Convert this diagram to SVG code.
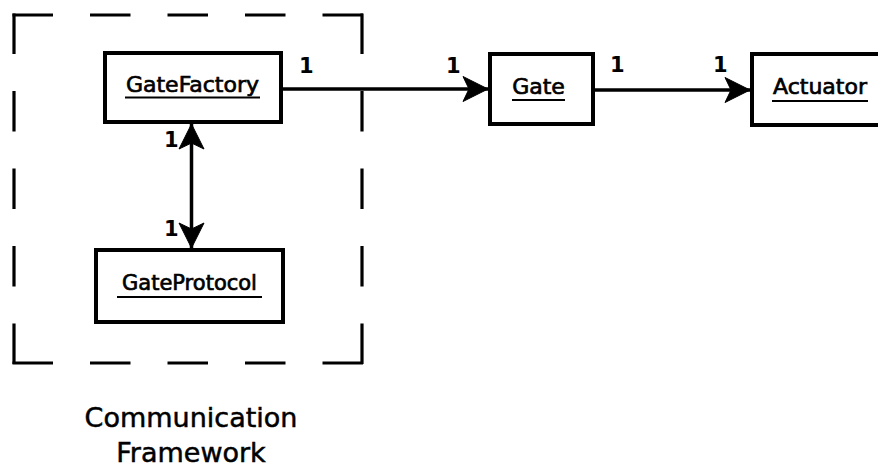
<svg xmlns="http://www.w3.org/2000/svg" width="878" height="467" viewBox="0 0 878 467">
  <style>
    .box { fill: #fff; stroke: #000; stroke-width: 4; }
    .name { font-family: "DejaVu Sans", "Liberation Sans", sans-serif; font-size: 22px; fill: #000; stroke: #000; stroke-width: 0.7; text-anchor: middle; }
    .ul { stroke: #000; stroke-width: 2.2; }
    .mult { font-family: "DejaVu Sans", "Liberation Sans", sans-serif; font-size: 21px; font-weight: bold; fill: #000; }
    .edge { fill: none; stroke: #000; stroke-width: 3.5; }
    .frame { stroke: #000; stroke-width: 3.2; stroke-dasharray: 40.5 37; fill: none; }
    .caption { font-family: "DejaVu Sans", "Liberation Sans", sans-serif; font-size: 27px; fill: #000; stroke: #000; stroke-width: 0.5; text-anchor: middle; }
    .tip { fill: #000; stroke: #000; stroke-width: 1; stroke-linejoin: miter; }
  </style>
  <defs>
    <marker id="head" markerUnits="userSpaceOnUse" markerWidth="32" markerHeight="32" viewBox="-30 -16 32 32" refX="0" refY="0" orient="auto-start-reverse" overflow="visible">
      <path class="tip" d="M-1,0 L-26,-12.5 L-20,0 L-26,12.5 Z"/>
    </marker>
  </defs>
  <rect width="878" height="467" fill="#fff"/>

  <!-- package frame (dashed) -->
  <g id="communication-framework">
    <line class="frame" x1="12.5" y1="15" x2="363.5" y2="15"/>
    <line class="frame" x1="12.5" y1="363" x2="363.5" y2="363"/>
    <line class="frame" x1="14" y1="13.5" x2="14" y2="364.5"/>
    <line class="frame" x1="362" y1="13.5" x2="362" y2="364.5"/>
    <text class="caption" x="191" y="427">Communication</text>
    <text class="caption" x="191" y="462">Framework</text>
  </g>

  <!-- connectors -->
  <g id="connectors">
    <line class="edge" x1="281" y1="89" x2="489" y2="89" marker-end="url(#head)"/>
    <line class="edge" x1="593" y1="90" x2="751" y2="90" marker-end="url(#head)"/>
    <line class="edge" x1="191.5" y1="123" x2="191.5" y2="249" marker-start="url(#head)" marker-end="url(#head)"/>
    <text class="mult" x="299" y="73">1</text>
    <text class="mult" x="446" y="73">1</text>
    <text class="mult" x="610" y="72">1</text>
    <text class="mult" x="713" y="72">1</text>
    <text class="mult" x="164" y="147">1</text>
    <text class="mult" x="164" y="236">1</text>
  </g>

  <g id="gate-factory">
    <rect class="box" x="105" y="53" width="176" height="69"/>
    <text class="name" x="192.5" y="92">GateFactory</text>
    <line class="ul" x1="125" y1="97.5" x2="260" y2="97.5"/>
  </g>

  <g id="gate-protocol">
    <rect class="box" x="96" y="250" width="187" height="72"/>
    <text class="name" x="189.5" y="290" style="font-size:21px">GateProtocol</text>
    <line class="ul" x1="117" y1="297" x2="262" y2="297"/>
  </g>

  <g id="gate">
    <rect class="box" x="490" y="54" width="103" height="70"/>
    <text class="name" x="538.5" y="94">Gate</text>
    <line class="ul" x1="512" y1="100" x2="565" y2="100"/>
  </g>

  <g id="actuator">
    <rect class="box" x="752" y="54" width="130" height="71"/>
    <text class="name" x="820" y="94">Actuator</text>
    <line class="ul" x1="772" y1="101" x2="868" y2="101"/>
  </g>
</svg>
